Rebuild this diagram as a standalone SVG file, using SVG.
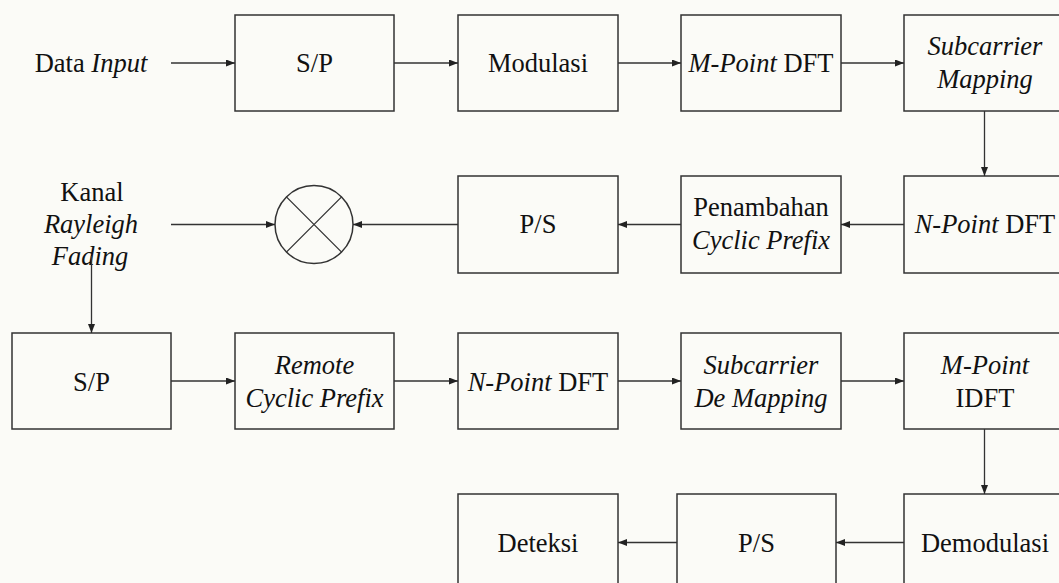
<svg xmlns="http://www.w3.org/2000/svg" width="1059" height="583" viewBox="0 0 1059 583">
<defs>
<marker id="ah" markerUnits="userSpaceOnUse" markerWidth="10" markerHeight="8" refX="9" refY="3.5" orient="auto">
<path d="M0,0 L9,3.5 L0,7 z" fill="#222"/>
</marker>
<style>
.box{fill:none;stroke:#333;stroke-width:1.5}
.ln{fill:none;stroke:#333;stroke-width:1.3}
.ar{fill:none;stroke:#333;stroke-width:1.3;marker-end:url(#ah)}
.t{font-size:26.5px;fill:#111;text-anchor:middle}
.i{font-style:italic}
</style>
</defs>
<rect width="1059" height="583" fill="#fbfbf7"/>

<g class="t" font-family="Liberation Serif, Times New Roman, serif">
<g id="label-input"><text x="91" y="72">Data <tspan class="i">Input</tspan></text></g>
<g id="sp1"><rect class="box" x="235" y="15" width="159" height="96"/><text x="314.5" y="72">S/P</text></g>
<g id="modulasi"><rect class="box" x="458" y="15" width="160" height="96"/><text x="538" y="72">Modulasi</text></g>
<g id="mdft"><rect class="box" x="681" y="15" width="160" height="96"/><text x="761" y="72"><tspan class="i">M-Point</tspan> DFT</text></g>
<g id="scmap"><rect class="box" x="904" y="15" width="160" height="96"/><text class="i" x="985" y="55">Subcarrier</text><text class="i" x="985" y="88">Mapping</text></g>

<g id="label-kanal"><text x="92" y="201">Kanal</text><text class="i" x="91" y="233">Rayleigh</text><text class="i" x="90" y="265">Fading</text></g>
<g id="mixer"><circle class="box" cx="314" cy="224.5" r="39"/><path class="ln" d="M286.4,196.9 L341.6,252.1 M341.6,196.9 L286.4,252.1"/></g>
<g id="ps1"><rect class="box" x="458" y="176" width="160" height="97"/><text x="538" y="233">P/S</text></g>
<g id="addcp"><rect class="box" x="681" y="176" width="160" height="97"/><text x="761" y="216">Penambahan</text><text class="i" x="761" y="249">Cyclic Prefix</text></g>
<g id="ndft1"><rect class="box" x="904" y="176" width="160" height="97"/><text x="985" y="233"><tspan class="i">N-Point</tspan> DFT</text></g>

<g id="sp2"><rect class="box" x="12" y="333" width="159" height="96"/><text x="91.5" y="390.5">S/P</text></g>
<g id="remcp"><rect class="box" x="235" y="333" width="159" height="96"/><text class="i" x="314.5" y="374">Remote</text><text class="i" x="314.5" y="406.5">Cyclic Prefix</text></g>
<g id="ndft2"><rect class="box" x="458" y="333" width="160" height="96"/><text x="538" y="390.5"><tspan class="i">N-Point</tspan> DFT</text></g>
<g id="scdemap"><rect class="box" x="681" y="333" width="160" height="96"/><text class="i" x="761" y="374">Subcarrier</text><text class="i" x="761" y="406.5">De Mapping</text></g>
<g id="midft"><rect class="box" x="904" y="333" width="160" height="96"/><text class="i" x="985" y="374">M-Point</text><text x="985" y="406.5">IDFT</text></g>

<g id="deteksi"><rect class="box" x="458" y="494" width="160" height="96"/><text x="538" y="551.5">Deteksi</text></g>
<g id="ps2"><rect class="box" x="677" y="494" width="159" height="96"/><text x="756.5" y="551.5">P/S</text></g>
<g id="demod"><rect class="box" x="904" y="494" width="160" height="96"/><text x="985" y="551.5">Demodulasi</text></g>
</g>

<g id="connectors">
<path class="ar" d="M171,63 H235"/>
<path class="ar" d="M394,63 H458"/>
<path class="ar" d="M618,63 H681"/>
<path class="ar" d="M841,63 H904"/>
<path class="ar" d="M984.5,111 V176"/>
<path class="ar" d="M904,224.5 H841"/>
<path class="ar" d="M681,224.5 H618"/>
<path class="ar" d="M458,224.5 H353"/>
<path class="ar" d="M171,224.5 H275"/>
<path class="ar" d="M91.5,256 V333"/>
<path class="ar" d="M171,381 H235"/>
<path class="ar" d="M394,381 H458"/>
<path class="ar" d="M618,381 H681"/>
<path class="ar" d="M841,381 H904"/>
<path class="ar" d="M984.5,429 V494"/>
<path class="ar" d="M904,542.5 H836"/>
<path class="ar" d="M677,542.5 H618"/>
</g>
</svg>
